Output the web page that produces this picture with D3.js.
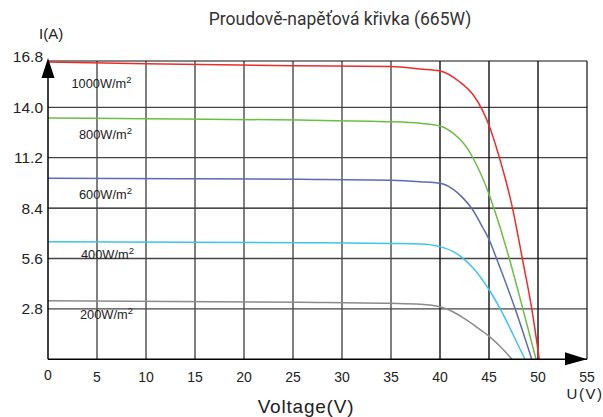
<!DOCTYPE html>
<html>
<head>
<meta charset="utf-8">
<script src="https://cdn.jsdelivr.net/npm/d3@7"></script>
<style>
  html, body { margin: 0; padding: 0; background: #fff; }
  svg { display: block; }
</style>
</head>
<body>
<svg id="chart" width="603" height="417"></svg>
<script>
// ---------- data ----------
const series = ["1000W/m", "800W/m", "600W/m", "400W/m", "200W/m"];
const voltage1000 = [0, 10, 25, 35, 38, 40, 42, 43.4, 44.4, 45, 45.9, 47.4, 48.4, 49.36, 50.13];
const current1000 = [16.52, 16.42, 16.31, 16.26, 16.13, 16.02, 15.42, 14.68, 13.76, 13.0, 11.5, 8.4, 5.6, 2.83, 0];
const voltage800 = [0, 10, 25.7, 35, 38, 40, 41.36, 42.4, 42.9, 43.2, 45.03, 45.5, 47.07, 48.44, 49.8];
const current800 = [13.4, 13.37, 13.29, 13.2, 13.11, 12.96, 12.55, 12.0, 11.63, 11.35, 9.13, 8.39, 5.6, 2.83, 0];
const voltage600 = [0, 25.7, 35, 38, 40, 41.36, 42.38, 43.23, 44.4, 45.03, 45.7, 47.65, 49.36];
const current600 = [10.06, 10.0, 9.95, 9.87, 9.78, 9.44, 8.94, 8.39, 7.28, 6.63, 5.7, 2.83, 0];
const voltage400 = [0, 25.7, 35, 38, 40, 41.36, 42.2, 43.4, 45.03, 46.12, 47.48, 48.67];
const current400 = [6.53, 6.48, 6.44, 6.41, 6.26, 5.98, 5.68, 5.06, 3.85, 2.83, 1.35, 0];
const voltage200 = [0, 25.7, 34.9, 38, 40, 41.36, 42.38, 43.4, 44.4, 45.03, 46.12, 47.35];
const current200 = [3.25, 3.17, 3.11, 3.06, 2.92, 2.63, 2.3, 1.93, 1.53, 1.27, 0.72, 0];
const xTicks = [0, 5, 10, 15, 20, 25, 30, 35, 40, 45, 50, 55];
const yTicks = [2.8, 5.6, 8.4, 11.2, 14.0, 16.8];
const yTickLabels = ["2.8", "5.6", "8.4", "11.2", "14.0", "16.8"];
const title = "Proudově-napěťová křivka (665W)";
const xTitle = "Voltage(V)";
const yUnit = "I(A)";
const xUnit = "U(V)";

// ---------- layout / style ----------
const colors = ["#ee2b2b", "#6dbd45", "#5b6bb4", "#3ec3ec", "#8c8a8a"];
const labelLayout = [
  { x: 71.5, dy: 26 },
  { x: 79, dy: 21 },
  { x: 79, dy: 21 },
  { x: 81, dy: 17.6 },
  { x: 80, dy: 18 }
];
const voltages = [voltage1000, voltage800, voltage600, voltage400, voltage200];
const currents = [current1000, current800, current600, current400, current200];

const svg = d3.select("#chart");
const x = d3.scaleLinear().domain([0, 55]).range([48, 587]);
const y = d3.scaleLinear().domain([0, 16.8]).range([359.3, 56.9]);
const plotTop = 61;
const sans = "'Liberation Sans', Arial, sans-serif";

// grid
const grid = svg.append("g");
grid.selectAll("line.h").data(yTicks.slice(0, 5)).join("line")
  .attr("x1", x(0)).attr("x2", x(55))
  .attr("y1", d => y(d)).attr("y2", d => y(d))
  .attr("stroke", (d, i) => i === 2 ? "#111" : "#444").attr("stroke-width", 1.3);
grid.selectAll("line.v").data(xTicks.slice(1, 11)).join("line")
  .attr("x1", d => x(d)).attr("x2", d => x(d))
  .attr("y1", plotTop).attr("y2", y(0))
  .attr("stroke", d => d >= 40 ? "#111" : "#4a4a4a").attr("stroke-width", 1.4);
// frame top / right
grid.append("line").attr("x1", x(0)).attr("x2", x(55)).attr("y1", plotTop).attr("y2", plotTop)
  .attr("stroke", "#111").attr("stroke-width", 1.2);
grid.append("line").attr("x1", x(55)).attr("x2", x(55)).attr("y1", plotTop).attr("y2", y(0))
  .attr("stroke", "#111").attr("stroke-width", 1.2);

// curves
const line = d3.line().x(d => x(d[0])).y(d => y(d[1])).curve(d3.curveMonotoneX);
series.forEach((s, i) => {
  const pts = voltages[i].map((v, j) => [v, currents[i][j]]);
  svg.append("path").datum(pts).attr("d", line)
    .attr("fill", "none").attr("stroke", colors[i]).attr("stroke-width", 1.5);
});

// axes lines
svg.append("line").attr("x1", x(0)).attr("x2", x(0)).attr("y1", plotTop).attr("y2", y(0))
  .attr("stroke", "#000").attr("stroke-width", 1.5);
svg.append("line").attr("x1", x(0)).attr("x2", x(55)).attr("y1", y(0)).attr("y2", y(0))
  .attr("stroke", "#000").attr("stroke-width", 1.5);
// arrows
svg.append("path")
  .attr("d", `M${x(0)},${plotTop - 3} L${x(0) - 6.5},${plotTop + 17} L${x(0) + 6.5},${plotTop + 17} Z`)
  .attr("fill", "#000");
svg.append("path")
  .attr("d", `M${x(55)},${y(0)} L${x(55) - 22},${y(0) - 7} L${x(55) - 22},${y(0) + 6} Z`)
  .attr("fill", "#000");

// irradiance labels
series.forEach((s, i) => {
  const t = svg.append("text")
    .attr("x", labelLayout[i].x)
    .attr("y", y(currents[i][0]) + labelLayout[i].dy)
    .attr("font-family", sans).attr("font-size", 12.8).attr("fill", "#222");
  t.append("tspan").text(s);
  t.append("tspan").attr("dy", -5).attr("font-size", 9.5).text("2");
});

// y tick labels
svg.selectAll("text.yt").data(yTicks).join("text")
  .attr("x", 43).attr("y", d => y(d) + 5.5)
  .attr("text-anchor", "end")
  .attr("font-family", sans).attr("font-size", 15.5).attr("fill", "#222")
  .text((d, i) => yTickLabels[i]);

// x tick labels
svg.selectAll("text.xt").data(xTicks).join("text")
  .attr("x", d => x(d)).attr("y", d => d === 0 ? 379.5 : 381.5)
  .attr("text-anchor", "middle")
  .attr("font-family", sans).attr("font-size", 14).attr("fill", "#222")
  .text(d => d);

// units
svg.append("text").attr("x", 39).attr("y", 39)
  .attr("font-family", sans).attr("font-size", 15).attr("fill", "#222").text(yUnit);
svg.append("text").attr("x", 585).attr("y", 399).attr("text-anchor", "middle")
  .attr("font-family", sans).attr("font-size", 15).attr("letter-spacing", 1.5)
  .attr("fill", "#222").text(xUnit);

// x title
svg.append("text").attr("x", 306).attr("y", 412.5).attr("text-anchor", "middle")
  .attr("font-family", sans).attr("font-size", 19).attr("letter-spacing", 0.8)
  .attr("fill", "#222").text(xTitle);

// title
svg.append("text").attr("x", 340).attr("y", 25).attr("text-anchor", "middle")
  .attr("font-family", "Roboto, sans-serif").attr("font-size", 17.5).attr("fill", "#333")
  .text(title);
</script>
</body>
</html>
